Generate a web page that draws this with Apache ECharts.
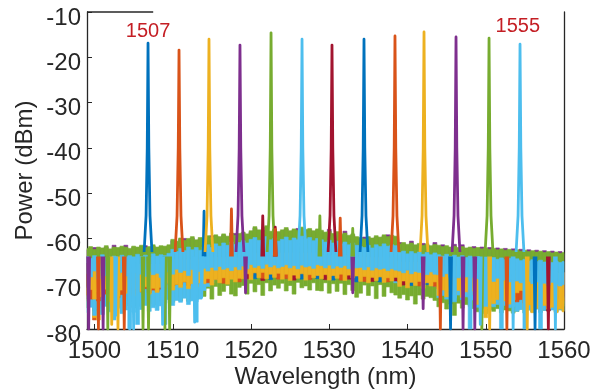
<!DOCTYPE html>
<html>
<head>
<meta charset="utf-8">
<script src="https://cdn.jsdelivr.net/npm/echarts@6/dist/echarts.min.js"></script>
<style>
  html, body { margin: 0; padding: 0; background: #fff; }
  #chart { width: 596px; height: 391px; }
</style>
</head>
<body>
<div id="chart"></div>
<script>
// -------------------------
// WDM comb spectrum, 13 channels
// -------------------------

// Channel colours (MATLAB default order)
const colorSets = ['#0072BD', '#D95319', '#EDB120', '#7E2F8E', '#77AC30', '#4DBEEE', '#A2142F'];

// Axis ranges and tick labels
const xMin = 1499.04, xMax = 1560;
const yMin = -80, yMax = -10;
const xTicks = [1500, 1510, 1520, 1530, 1540, 1550, 1560];

// Peaks (nm, dBm)
const peakWl = [1506.84, 1510.80, 1514.63, 1518.59, 1522.56, 1526.52, 1530.35, 1534.44, 1538.40, 1542.11, 1546.20, 1550.42, 1554.38];
const peakTop = [-16.9, -18.4, -16.0, -17.3, -14.6, -16.0, -17.3, -16.0, -15.3, -14.4, -15.5, -15.8, -17.1];

// Shape of a peak around its centre (offset nm, level dBm; null = peak top)
const peakShapeDx = [-0.5, -0.25, -0.1, 0, 0.1, 0.25, 0.5];
const peakShapeDb = [-63, -55, -40, null, -40, -55, -63];

// Thin spikes / dips on the noise floor: channel index, wavelength, level
const spikeCh = [0, 1, 6, 6, 8, 8, 11, 11,
                 3, 1, 3, 4, 2, 12, 1, 12, 5, 4, 4, 12, 4, 4, 12, 5, 3, 10, 10,
                 8, 7, 10, 10, 12, 4, 9, 8, 5, 9, 7, 6, 12, 2];
const spikeWl = [1514.0, 1517.5, 1521.5, 1523.1, 1531.4, 1523.1, 1528.8, 1533.0,
                 1499.25, 1500.5, 1501.1, 1501.7, 1502.2, 1502.7, 1503.8, 1504.5, 1505.0, 1506.2, 1506.9, 1508.7, 1509.0, 1509.6, 1512.8, 1513.7, 1519.3, 1533.0, 1542.0,
                 1544.2, 1545.5, 1547.1, 1548.6, 1549.3, 1549.5, 1550.5, 1552.7, 1553.5, 1555.3, 1556.3, 1558.0, 1558.9, 1503.0];
const spikeLevel = [-54, -53.5, -55, -57.5, -55.5, -58, -55, -57.8,
                    -80, -80, -80, -80, -79, -77, -80, -80, -80, -80, -80, -79, -80, -80, -78.5, -73, -72, -72, -75.5,
                    -80, -80, -80, -80, -79, -80, -80, -80, -80, -80, -80, -80, -80, -80];
const spikeBase = -64;
const spikeHalfWidth = 0.12;

// Annotations
const labelText = ['1507', '1555'];
const labelWl = [1506.84, 1554.1];
const labelPow = [-14.2, -13.3];
const topLineEnd = 1507.5;

// Noise band of each trace, one column every 0.5 nm from 1499 nm
const wlStart = 1499, wlStep = 0.5;

// top of the green band (upper envelope of the floor)
const upperEdge = [
  -62.2,-61.8,-62.4,-61.9,-62.1,-61.6,-62.3,-61.9,-62.0,-61.7,
  -61.9,-62.2,-61.7,-61.9,-61.5,-62.0,-61.8,-61.4,-61.9,-61.6,
  -61.7,-61.4,-60.2,-60.6,-59.9,-60.4,-60.0,-59.6,-60.3,-59.8,
  -59.9,-59.4,-59.8,-59.2,-59.6,-59.0,-59.5,-58.8,-59.3,-58.9,
  -58.6,-59.0,-58.3,-57.4,-58.1,-58.6,-57.2,-58.4,-58.0,-58.5,
  -58.1,-57.6,-58.3,-57.9,-58.2,-57.5,-58.0,-57.8,-58.3,-57.9,
  -58.2,-58.6,-58.4,-58.9,-58.5,-59.1,-58.8,-59.3,-59.0,-59.6,
  -59.8,-60.1,-59.6,-59.9,-59.4,-59.7,-59.2,-59.6,-59.3,-59.5,
  -61.2,-60.9,-61.3,-61.0,-61.4,-61.1,-61.5,-61.2,-61.6,-61.3,
  -61.5,-61.8,-61.6,-61.9,-61.7,-62.0,-61.8,-62.1,-61.9,-62.2,
  -62.0,-62.3,-62.1,-62.4,-62.2,-62.5,-62.3,-62.6,-62.4,-62.7,
  -62.5,-62.8,-62.6,-62.9,-62.7,-63.0,-62.8,-63.1,-62.9,-63.2,
  -63.0,-63.3,-63.1];
// top of the purple band, peeking above the green here and there
const purpleTop = [
  -62.5,-62.1,-62.0,-62.2,-62.4,-61.9,-62.6,-61.5,-62.3,-62.0,
  -61.5,-62.5,-62.0,-62.2,-61.8,-61.6,-62.1,-61.7,-62.2,-61.9,
  -62.0,-61.7,-60.5,-60.9,-60.2,-60.0,-60.3,-59.9,-60.6,-60.1,
  -60.2,-59.7,-59.4,-59.5,-59.9,-59.3,-59.8,-59.1,-58.9,-59.2,
  -58.9,-59.3,-58.6,-57.7,-58.4,-58.2,-57.5,-58.7,-58.3,-58.8,
  -58.4,-57.9,-58.6,-58.2,-57.8,-57.8,-58.3,-58.1,-58.6,-58.2,
  -58.5,-58.9,-58.0,-59.2,-58.8,-59.4,-58.4,-59.6,-59.3,-59.9,
  -60.1,-59.7,-59.9,-60.2,-59.7,-60.0,-59.5,-59.2,-59.6,-59.8,
  -60.9,-61.2,-61.6,-60.6,-61.7,-61.4,-61.1,-61.5,-61.9,-60.9,
  -61.8,-61.4,-61.9,-62.2,-61.3,-62.3,-61.4,-62.4,-62.2,-61.8,
  -62.3,-61.9,-62.4,-62.0,-62.5,-62.1,-62.6,-62.2,-62.7,-62.3,
  -62.8,-62.4,-62.9,-62.5,-63.0,-62.6,-63.1,-62.7,-63.2,-62.8,
  -63.3,-62.9,-63.4];
// light-blue band (top layer)
const lbTop = [
  -64.0,-64.4,-63.8,-64.3,-63.6,-64.2,-64.5,-63.9,-64.3,-63.7,
  -64.1,-63.8,-64.4,-63.5,-64.0,-63.7,-64.2,-63.4,-63.9,-63.6,
  -63.8,-63.3,-62.4,-62.9,-62.2,-62.7,-61.9,-62.5,-62.0,-62.6,
  -61.9,-61.4,-62.0,-61.2,-61.7,-61.0,-61.5,-60.8,-61.3,-60.9,
  -60.5,-61.0,-60.2,-59.8,-60.4,-60.7,-59.6,-60.3,-60.0,-60.6,
  -60.2,-59.7,-60.4,-59.9,-60.3,-59.5,-60.1,-59.8,-60.5,-60.0,
  -60.3,-60.8,-60.4,-61.0,-60.6,-61.2,-60.8,-61.4,-61.0,-61.5,
  -61.8,-62.0,-61.5,-62.1,-61.4,-61.8,-61.2,-61.7,-61.4,-61.6,
  -63.1,-62.8,-63.4,-62.9,-63.3,-63.0,-63.5,-63.1,-63.6,-63.2,
  -63.6,-63.9,-63.5,-64.0,-63.7,-64.1,-63.8,-64.2,-63.9,-64.3,
  -64.0,-64.4,-64.1,-64.5,-64.2,-64.6,-64.3,-64.7,-64.4,-64.8,
  -64.5,-64.9,-64.6,-65.0,-64.7,-65.1,-64.8,-65.2,-64.9,-65.3,
  -65.0,-65.3,-65.1];
const lbBottom = [
  -67.8,-68.5,-67.2,-68.9,-67.6,-68.2,-67.4,-76.0,-68.0,-67.5,
  -68.3,-80.0,-67.6,-79.0,-67.9,-68.4,-67.3,-68.0,-67.7,-68.6,
  -79.0,-67.4,-67.9,-66.8,-67.5,-67.1,-68.2,-66.9,-78.5,-67.3,
  -66.6,-67.2,-66.4,-67.0,-66.2,-66.8,-66.5,-67.1,-66.3,-66.9,
  -66.1,-66.7,-65.8,-66.4,-66.0,-66.6,-65.7,-66.3,-65.9,-66.5,
  -66.2,-65.8,-66.5,-66.0,-66.7,-65.9,-66.3,-66.1,-66.6,-65.8,
  -66.0,-66.5,-65.9,-66.6,-66.1,-66.4,-66.0,-66.7,-66.2,-66.5,
  -66.4,-66.9,-66.3,-67.0,-66.5,-66.8,-66.6,-67.1,-66.7,-67.0,
  -67.2,-67.6,-67.0,-67.8,-67.3,-67.5,-67.6,-68.0,-67.4,-67.9,
  -68.0,-68.4,-67.8,-68.6,-74.0,-68.7,-68.2,-68.5,-80.0,-68.6,
  -68.9,-69.3,-75.0,-69.0,-69.5,-68.8,-80.0,-69.2,-69.6,-69.1,
  -69.4,-69.8,-80.0,-69.5,-70.0,-69.6,-80.0,-69.9,-70.3,-69.7,
  -70.1,-70.5,-70.2];
// hidden edge inside the light-blue band (tops of the lower traces)
const hiddenEdge = [
  -65.5,-65.5,-65.5,-65.5,-65.5,-65.5,-65.5,-65.5,-65.5,-65.5,
  -65.5,-65.5,-65.5,-65.5,-65.5,-65.5,-65.5,-65.5,-65.5,-65.5,
  -64.5,-64.5,-64.5,-64.5,-64.5,-64.5,-64.5,-64.5,-64.5,-64.5,
  -64,-64,-64,-64,-64,-64,-64,-64,-64,-64,
  -63,-63,-63,-63,-63,-63,-63,-63,-63,-63,
  -63,-63,-63,-63,-63,-63,-63,-63,-63,-63,
  -63.5,-63.5,-63.5,-63.5,-63.5,-63.5,-63.5,-63.5,-63.5,-63.5,
  -64,-64,-64,-64,-64,-64,-64,-64,-64,-64,
  -65,-65,-65,-65,-65,-65,-65,-65,-65,-65,
  -66,-66,-66,-66,-66,-66,-66,-66,-66,-66,
  -66.5,-66.5,-66.5,-66.5,-66.5,-66.5,-66.5,-66.5,-66.5,-66.5,
  -67,-67,-67,-67,-67,-67,-67,-67,-67,-67,
  -67.5,-67.5,-67.5];
// lower edges of the lower traces
const lo1507 = [
  -71.5,-70.4,-72.0,-70.8,-71.3,-70.1,-71.8,-70.6,-71.2,-72.3,
  -70.2,-71.0,-70.6,-69.8,-71.4,-70.3,-70.9,-70.0,-71.1,-70.5,
  -69.8,-69.1,-70.2,-69.4,-69.9,-68.8,-70.0,-69.3,-69.7,-69.0,
  -68.9,-68.2,-69.0,-68.4,-68.7,-68.1,-69.2,-68.5,-68.8,-68.3,
  -67.8,-67.2,-68.0,-67.5,-67.9,-67.1,-67.7,-67.4,-68.1,-67.3,
  -67.6,-67.9,-67.2,-67.8,-67.4,-68.0,-67.3,-67.7,-67.5,-68.1,
  -67.4,-67.9,-67.1,-67.6,-68.0,-67.3,-67.8,-67.5,-69.2,-67.6,
  -68.2,-67.7,-68.4,-67.9,-68.3,-67.8,-68.6,-68.0,-68.4,-67.9,
  -69.1,-68.6,-69.4,-68.8,-69.3,-68.7,-69.5,-69.0,-69.2,-68.9,
  -70.4,-70.9,-70.2,-71.0,-70.5,-70.8,-70.3,-71.1,-70.6,-70.9,
  -72.1,-71.6,-72.4,-71.8,-72.3,-71.7,-72.5,-71.9,-72.2,-72.6,
  -73.2,-72.7,-73.5,-72.9,-73.3,-72.8,-73.6,-73.0,-73.4,-72.9,
  -73.1,-73.5,-73.0];
const lo1511 = [
  -73.4,-72.2,-78.0,-76.5,-72.8,-73.9,-72.4,-73.1,-72.6,-75.0,
  -74.5,-71.8,-71.0,-72.3,-71.4,-70.9,-71.9,-71.2,-71.6,-70.8,
  -70.4,-69.7,-70.6,-69.9,-70.3,-69.5,-70.1,-69.8,-70.5,-69.6,
  -68.9,-68.2,-68.7,-68.0,-69.1,-68.4,-68.8,-68.1,-68.6,-68.3,
  -67.9,-67.4,-68.2,-67.5,-67.8,-67.2,-68.0,-67.6,-67.3,-67.9,
  -67.7,-67.3,-68.1,-67.5,-67.9,-67.2,-67.8,-67.4,-68.0,-67.6,
  -68.2,-67.8,-68.4,-67.6,-68.3,-67.9,-68.1,-67.7,-68.5,-67.8,
  -68.7,-68.3,-68.9,-68.1,-68.6,-68.4,-69.0,-68.2,-68.8,-68.5,
  -69.6,-69.2,-69.9,-69.3,-69.7,-69.1,-70.0,-69.4,-69.8,-69.5,
  -71.0,-70.6,-71.3,-70.8,-71.2,-70.7,-71.4,-70.9,-71.1,-71.5,
  -73.1,-72.6,-73.4,-72.8,-73.2,-72.7,-73.5,-72.9,-73.3,-72.8,
  -74.1,-73.6,-74.4,-73.8,-74.2,-73.7,-74.5,-73.9,-74.3,-74.0,
  -74.2,-73.8,-74.4];
const lo1515 = [
  -73.9,-72.8,-77.5,-78.0,-73.2,-74.1,-72.9,-73.6,-73.0,-74.4,
  -72.3,-71.6,-72.5,-71.8,-72.2,-71.5,-72.6,-71.9,-72.1,-71.7,
  -70.8,-70.2,-70.9,-70.3,-70.7,-70.1,-71.0,-70.4,-70.6,-70.0,
  -69.3,-68.7,-69.4,-68.9,-69.2,-68.6,-69.5,-68.8,-69.1,-68.7,
  -68.4,-67.9,-68.6,-68.0,-68.3,-67.8,-68.5,-68.1,-68.2,-67.9,
  -68.3,-67.9,-68.5,-68.0,-68.4,-67.8,-68.6,-68.1,-68.2,-68.0,
  -68.7,-68.2,-68.8,-68.4,-68.6,-68.1,-68.9,-68.3,-68.5,-68.7,
  -69.2,-68.7,-69.4,-68.9,-69.1,-68.8,-69.3,-68.6,-69.2,-68.9,
  -70.2,-69.7,-70.4,-69.9,-70.1,-69.8,-70.3,-69.6,-70.2,-70.0,
  -72.2,-71.7,-72.4,-71.9,-72.1,-71.6,-72.5,-71.8,-72.3,-72.0,
  -74.2,-73.7,-74.4,-73.8,-74.1,-73.6,-74.5,-73.9,-74.3,-74.0,
  -75.1,-74.7,-75.4,-74.8,-75.2,-74.6,-75.3,-74.9,-75.1,-74.8,
  -75.2,-74.8,-75.0];
const lo1519 = [
  -71.0,-71.8,-70.6,-72.1,-71.3,-70.8,-71.7,-70.5,-71.4,-72.0,
  -70.7,-70.1,-71.2,-70.4,-70.9,-70.0,-71.0,-70.3,-70.8,-70.2,
  -69.6,-69.0,-69.9,-69.2,-69.7,-68.9,-69.8,-69.1,-69.5,-69.3,
  -68.6,-68.0,-68.8,-68.3,-68.5,-67.9,-68.7,-68.2,-68.4,-68.1,
  -67.6,-67.1,-67.8,-67.3,-67.7,-67.0,-67.9,-67.4,-67.5,-67.2,
  -67.5,-67.0,-67.7,-67.2,-67.6,-67.1,-67.8,-67.3,-67.4,-67.9,
  -67.6,-67.2,-67.9,-67.3,-67.7,-67.1,-67.8,-67.4,-67.5,-67.0,
  -68.0,-67.6,-68.3,-67.7,-68.1,-67.5,-68.2,-67.8,-68.0,-67.6,
  -69.0,-68.5,-69.3,-68.7,-69.1,-68.6,-69.2,-68.8,-69.0,-68.6,
  -70.6,-70.1,-70.8,-70.3,-70.7,-70.2,-70.9,-70.4,-70.5,-70.8,
  -72.0,-71.5,-72.3,-71.7,-72.1,-71.6,-72.4,-71.8,-72.0,-71.6,
  -73.0,-72.6,-73.3,-72.7,-73.1,-72.5,-73.2,-72.8,-73.0,-72.6,
  -73.0,-72.7,-73.2];
const lo1523 = [
  -75.4,-74.1,-76.0,-74.6,-75.2,-73.8,-75.7,-74.4,-75.1,-74.0,
  -74.8,-73.9,-75.3,-74.2,-74.9,-73.6,-75.0,-74.3,-74.7,-73.8,
  -73.6,-72.8,-74.1,-73.0,-73.8,-72.6,-73.9,-73.2,-73.5,-72.9,
  -72.8,-71.0,-73.4,-70.6,-72.6,-71.7,-70.4,-72.3,-72.7,-70.8,
  -70.4,-72.3,-69.9,-71.8,-70.2,-72.6,-69.8,-71.6,-70.3,-71.0,
  -69.9,-71.6,-70.4,-72.3,-69.7,-70.9,-70.5,-71.4,-69.8,-71.5,
  -71.6,-69.8,-72.1,-70.0,-71.7,-69.9,-72.4,-70.2,-71.5,-73.0,
  -72.1,-70.3,-72.6,-70.5,-73.3,-70.2,-72.8,-70.7,-72.0,-72.5,
  -73.2,-72.4,-73.6,-72.7,-74.5,-72.5,-73.4,-72.8,-73.1,-73.7,
  -75.1,-74.2,-75.6,-74.5,-77.0,-74.3,-75.4,-74.6,-75.0,-75.5,
  -76.2,-75.4,-76.6,-75.7,-76.1,-75.5,-76.4,-75.8,-76.0,-76.5,
  -76.1,-75.6,-76.5,-75.8,-76.2,-75.5,-76.3,-75.9,-76.0,-75.7,
  -76.2,-75.8,-76.0];
const lo1527 = [
  -76.4,-75.2,-77.0,-75.6,-76.8,-75.0,-76.2,-78.0,-75.4,-76.6,
  -75.8,-74.6,-76.3,-75.1,-75.7,-74.8,-76.1,-75.3,-75.9,-74.9,
  -74.3,-73.5,-74.8,-73.7,-74.1,-73.2,-74.6,-73.8,-74.0,-73.4,
  -71.5,-70.6,-69.8,-69.0,-68.7,-68.3,-68.9,-68.4,-68.6,-68.2,
  -67.7,-67.3,-67.9,-67.4,-67.6,-67.2,-67.8,-67.5,-67.6,-67.3,
  -67.6,-67.2,-67.8,-67.4,-67.7,-67.3,-67.9,-67.5,-67.6,-67.4,
  -68.1,-67.7,-68.3,-67.8,-68.0,-67.6,-68.2,-67.9,-68.1,-67.7,
  -68.6,-68.2,-68.8,-68.3,-68.7,-68.1,-68.9,-68.4,-68.6,-69.8,
  -70.2,-69.6,-70.5,-69.8,-70.1,-69.5,-70.4,-69.9,-70.2,-70.6,
  -73.1,-72.6,-73.4,-72.8,-73.2,-72.5,-73.5,-72.9,-73.1,-73.6,
  -75.2,-74.7,-75.5,-74.9,-75.1,-74.6,-75.4,-74.8,-75.3,-75.0,
  -76.1,-75.7,-76.4,-75.8,-76.2,-75.6,-76.3,-75.9,-76.0,-75.8,
  -76.2,-75.7,-76.0];
const lo1531 = [
  -70.6,-71.3,-70.2,-71.7,-70.9,-70.4,-71.5,-70.7,-71.1,-70.3,
  -70.3,-70.9,-70.0,-71.2,-70.5,-69.9,-70.8,-70.2,-70.6,-70.1,
  -69.3,-69.8,-69.0,-70.1,-69.4,-68.8,-69.7,-69.1,-69.5,-69.0,
  -68.4,-68.9,-68.1,-69.0,-68.5,-67.9,-68.8,-68.2,-68.6,-68.0,
  -67.4,-68.9,-67.1,-68.0,-67.5,-69.3,-67.8,-67.3,-67.6,-68.8,
  -67.3,-67.8,-67.0,-69.2,-67.4,-67.1,-67.7,-68.9,-67.5,-67.9,
  -67.5,-69.1,-67.2,-67.8,-67.4,-67.9,-67.1,-69.0,-67.3,-67.8,
  -67.9,-68.4,-67.7,-69.5,-68.0,-67.6,-68.3,-67.8,-68.1,-69.4,
  -68.8,-70.3,-68.6,-69.4,-68.9,-70.1,-69.2,-68.7,-69.0,-68.6,
  -70.3,-70.8,-70.1,-70.9,-70.4,-70.0,-70.7,-70.2,-70.5,-70.1,
  -71.8,-72.3,-71.6,-72.4,-71.9,-71.5,-72.2,-71.7,-72.0,-71.6,
  -72.8,-73.3,-72.6,-73.4,-72.9,-72.5,-73.2,-74.5,-76.0,-74.2,
  -72.9,-73.2,-72.8];
const lo1535 = [
  -70.9,-70.3,-71.4,-70.6,-71.1,-70.2,-71.6,-70.5,-71.0,-70.7,
  -70.4,-70.0,-70.8,-70.1,-70.6,-69.8,-70.9,-70.3,-70.5,-70.0,
  -69.4,-68.9,-69.7,-69.0,-69.5,-68.8,-69.8,-69.2,-69.3,-68.9,
  -68.5,-68.0,-68.8,-68.2,-68.6,-67.9,-68.7,-68.3,-68.4,-68.0,
  -67.5,-67.1,-67.8,-68.9,-67.6,-67.0,-67.9,-69.1,-67.4,-67.1,
  -67.4,-68.8,-67.7,-67.3,-67.5,-69.0,-67.8,-67.2,-67.6,-68.9,
  -67.6,-67.1,-67.9,-69.2,-67.7,-67.2,-67.8,-67.4,-67.5,-69.6,
  -68.1,-69.4,-68.3,-67.8,-68.2,-69.6,-68.4,-67.9,-68.0,-67.6,
  -68.9,-68.5,-69.2,-70.4,-69.0,-68.4,-69.3,-70.2,-68.9,-68.5,
  -70.5,-70.0,-70.8,-70.2,-70.6,-70.1,-70.9,-70.3,-70.4,-70.0,
  -71.9,-71.4,-72.2,-71.6,-72.0,-71.5,-72.3,-71.7,-71.8,-71.4,
  -72.9,-72.4,-73.2,-72.6,-73.0,-72.5,-73.3,-72.7,-72.8,-72.4,
  -72.9,-72.5,-73.1];
const lo1539 = [
  -72.6,-73.4,-72.1,-73.8,-72.9,-72.3,-73.5,-72.7,-73.1,-72.4,
  -71.9,-71.3,-72.2,-71.5,-71.8,-71.1,-72.0,-71.4,-71.7,-71.2,
  -70.3,-69.8,-70.5,-69.9,-70.2,-69.6,-70.4,-69.7,-70.1,-69.5,
  -68.8,-69.8,-69.0,-68.4,-68.7,-69.9,-68.9,-68.5,-68.6,-69.6,
  -67.8,-67.3,-68.1,-67.4,-67.9,-68.8,-68.0,-67.5,-67.7,-69.0,
  -67.8,-68.9,-68.0,-67.5,-67.9,-67.3,-68.1,-69.1,-67.7,-67.5,
  -68.1,-67.7,-68.4,-67.8,-68.2,-69.2,-68.3,-67.9,-68.0,-67.7,
  -68.6,-69.5,-68.9,-68.3,-68.7,-68.1,-68.8,-69.6,-68.5,-68.2,
  -69.6,-69.1,-69.8,-69.3,-69.5,-70.5,-69.9,-69.4,-69.7,-70.6,
  -71.1,-70.7,-71.3,-70.8,-71.2,-70.6,-71.4,-70.9,-71.0,-70.7,
  -73.0,-72.5,-73.3,-72.7,-73.1,-72.6,-73.4,-72.8,-72.9,-72.6,
  -74.0,-73.5,-74.3,-73.7,-74.1,-73.6,-74.2,-73.8,-73.9,-73.6,
  -70.0,-69.5,-73.8];
const lo1543 = [
  -72.5,-71.3,-73.4,-71.8,-72.9,-71.2,-74.0,-71.6,-72.7,-71.4,
  -72.1,-70.9,-72.6,-71.2,-71.8,-70.7,-72.3,-71.0,-71.9,-70.8,
  -71.0,-69.9,-71.4,-70.2,-70.8,-69.6,-71.1,-70.0,-70.7,-69.8,
  -70.0,-68.9,-70.3,-69.1,-69.8,-68.7,-70.1,-69.0,-69.6,-68.8,
  -68.9,-67.8,-69.1,-67.6,-68.7,-67.5,-68.9,-67.9,-68.6,-67.7,
  -69.0,-67.9,-69.3,-68.1,-68.8,-67.8,-69.2,-68.0,-68.7,-68.2,
  -68.9,-68.0,-69.2,-68.2,-68.8,-67.9,-69.3,-68.1,-68.7,-68.3,
  -69.5,-68.4,-69.8,-68.6,-69.3,-68.5,-69.7,-68.7,-69.4,-68.6,
  -70.6,-69.4,-70.9,-69.7,-70.4,-69.5,-71.0,-69.8,-70.5,-69.6,
  -72.6,-71.4,-72.9,-71.7,-72.4,-71.5,-73.0,-71.8,-72.5,-71.6,
  -74.6,-73.4,-77.5,-73.7,-74.4,-73.5,-75.0,-73.8,-74.5,-73.6,
  -72.0,-71.5,-75.9,-74.7,-76.4,-75.5,-76.0,-74.8,-75.6,-75.2,
  -76.4,-75.6,-76.2];

// Band edges per channel, in plotting order (later ones drawn on top)
const bandHi = [hiddenEdge, hiddenEdge, hiddenEdge, hiddenEdge, hiddenEdge, hiddenEdge, hiddenEdge,
                hiddenEdge, hiddenEdge, hiddenEdge, purpleTop, upperEdge, lbTop];
const bandLo = [lo1507, lo1511, lo1515, lo1519, lo1523, lo1527, lo1531,
                lo1535, lo1539, lo1543, hiddenEdge, hiddenEdge, lbBottom];

// ----------------------
// Helpers
// ----------------------

// Band columns → [wl, lo, hi]
function buildBand(k) {
	return bandLo[k].map((lo, i) => [wlStart + i * wlStep, lo, bandHi[k][i]]);
}

// Peak shape + thin spikes of channel k (spikes separated by gaps)
function buildPeakLine(k) {
	const pts = peakShapeDx.map((dx, j) => [peakWl[k] + dx, peakShapeDb[j] === null ? peakTop[k] : peakShapeDb[j]]);
	spikeCh.forEach((ch, s) => {
		if (ch !== k) return;
		pts.push(['-', '-']);
		pts.push([spikeWl[s] - spikeHalfWidth, spikeBase]);
		pts.push([spikeWl[s], spikeLevel[s]]);
		pts.push([spikeWl[s] + spikeHalfWidth, spikeBase]);
	});
	return pts;
}

function bandRenderer(color) {
	return function (params, api) {
		const wl = api.value(0), lo = api.value(1), hi = api.value(2);
		const a = api.coord([wl - wlStep / 2, hi]);
		const b = api.coord([wl + wlStep / 2, lo]);
		const cs = params.coordSys;
		const rect = echarts.graphic.clipRectByRect(
			{ x: a[0], y: a[1], width: b[0] - a[0], height: b[1] - a[1] },
			{ x: cs.x, y: cs.y, width: cs.width, height: cs.height }
		);
		if (!rect) return null;
		return { type: 'rect', shape: rect, style: { fill: color, stroke: color, lineWidth: 0.6 } };
	};
}

const axisColor = '#262626';
const fontFamily = '"Liberation Sans", Arial, sans-serif';

const series = [];
peakWl.forEach((wl, k) => {
	const color = colorSets[k % colorSets.length];
	series.push({
		type: 'custom',
		renderItem: bandRenderer(color),
		data: buildBand(k),
		encode: { x: 0, y: [1, 2] },
		silent: true,
		animation: false
	});
	series.push({
		type: 'line',
		data: buildPeakLine(k),
		showSymbol: false,
		symbol: 'none',
		connectNulls: false,
		silent: true,
		animation: false,
		lineStyle: { width: 2.8, color: color, join: 'round' },
		itemStyle: { color: color }
	});
});

// Red channel labels
series.push({
	type: 'scatter',
	data: [],
	silent: true,
	animation: false,
	markPoint: {
		symbol: 'circle',
		symbolSize: 0,
		animation: false,
		data: labelText.map((t, i) => ({
			coord: [labelWl[i], labelPow[i]],
			label: { show: true, formatter: t, color: '#C41E24', fontSize: 20, fontFamily: fontFamily, position: 'inside' }
		}))
	}
});

const option = {
	animation: false,
	grid: { left: 87, right: 32, top: 12, bottom: 62, containLabel: false, outerBoundsMode: 'none' },
	xAxis: {
		type: 'value',
		min: xMin,
		max: xMax,
		name: 'Wavelength (nm)',
		nameLocation: 'middle',
		nameGap: 36,
		nameMoveOverlap: false,
		nameTextStyle: { color: axisColor, fontSize: 24, fontFamily: fontFamily },
		axisLine: { show: true, onZero: false, lineStyle: { color: axisColor, width: 1.3 } },
		axisTick: { show: true, inside: true, length: 5, customValues: xTicks, lineStyle: { color: axisColor } },
		axisLabel: { customValues: xTicks, formatter: v => String(v), color: axisColor, fontSize: 24, fontFamily: fontFamily, margin: 10 },
		splitLine: { show: false }
	},
	yAxis: [
		{
			type: 'value',
			min: yMin,
			max: yMax,
			interval: 10,
			name: 'Power (dBm)',
			nameLocation: 'middle',
			nameGap: 50,
			nameMoveOverlap: false,
			nameTextStyle: { color: axisColor, fontSize: 24, fontFamily: fontFamily },
			axisLine: { show: true, onZero: false, lineStyle: { color: axisColor, width: 1.3 } },
			axisTick: { show: true, inside: true, length: 5, lineStyle: { color: axisColor } },
			axisLabel: { color: axisColor, fontSize: 24, fontFamily: fontFamily, margin: 6, verticalAlign: 'top', lineHeight: 12 },
			splitLine: { show: false }
		},
		{
			type: 'value',
			min: yMin,
			max: yMax,
			position: 'right',
			axisLine: { show: true, onZero: false, lineStyle: { color: axisColor, width: 1.3 } },
			axisTick: { show: false },
			axisLabel: { show: false },
			splitLine: { show: false }
		}
	],
	series: series
};

const chart = echarts.init(document.getElementById('chart'), null, { renderer: 'canvas' });
chart.setOption(option);

// Partial top frame line (rest of the top edge is not drawn in the original)
const p0 = chart.convertToPixel({ gridIndex: 0 }, [xMin, yMax]);
const p1 = chart.convertToPixel({ gridIndex: 0 }, [topLineEnd, yMax]);
chart.setOption({
	graphic: [{
		type: 'line',
		shape: { x1: p0[0], y1: p0[1], x2: p1[0], y2: p1[1] },
		style: { stroke: axisColor, lineWidth: 1.3 },
		z: 10
	}]
});
</script>
</body>
</html>
